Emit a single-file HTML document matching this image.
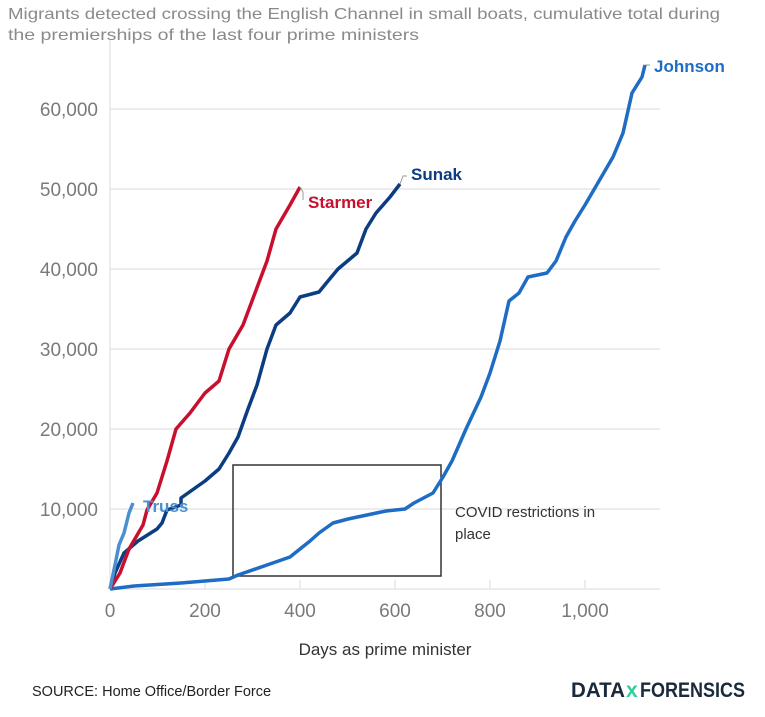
<!DOCTYPE html><html><head><style>body{margin:0;background:#fff;font-family:"Liberation Sans",sans-serif}</style></head><body>
<svg width="765" height="712" xmlns="http://www.w3.org/2000/svg" font-family="Liberation Sans, sans-serif">
<text x="8" y="19" font-size="16" fill="#8a8a8a" textLength="712" lengthAdjust="spacingAndGlyphs">Migrants detected crossing the English Channel in small boats, cumulative total during</text>
<text x="8" y="40" font-size="16" fill="#8a8a8a" textLength="411" lengthAdjust="spacingAndGlyphs">the premierships of the last four prime ministers</text>
<g stroke="#e6e6e6" stroke-width="1.5">
<line x1="110" y1="509" x2="660" y2="509"/><line x1="110" y1="429" x2="660" y2="429"/><line x1="110" y1="349" x2="660" y2="349"/><line x1="110" y1="269" x2="660" y2="269"/><line x1="110" y1="189" x2="660" y2="189"/><line x1="110" y1="109" x2="660" y2="109"/>
<line x1="110" y1="40" x2="110" y2="589"/><line x1="205" y1="580" x2="205" y2="589"/><line x1="300" y1="580" x2="300" y2="589"/><line x1="395" y1="580" x2="395" y2="589"/><line x1="490" y1="580" x2="490" y2="589"/><line x1="585" y1="580" x2="585" y2="589"/>
<line x1="110" y1="589" x2="660" y2="589"/></g>
<g font-size="19" fill="#7a7a7a" text-anchor="end">
<text x="98" y="516">10,000</text><text x="98" y="436">20,000</text><text x="98" y="356">30,000</text><text x="98" y="276">40,000</text><text x="98" y="196">50,000</text><text x="98" y="116">60,000</text></g>
<g font-size="19" fill="#7a7a7a" text-anchor="middle">
<text x="110" y="617">0</text><text x="205" y="617">200</text><text x="300" y="617">400</text><text x="395" y="617">600</text><text x="490" y="617">800</text><text x="585" y="617">1,000</text></g>
<text x="385" y="655" font-size="17" fill="#333" text-anchor="middle">Days as prime minister</text>
<rect x="233" y="465" width="208" height="111" fill="none" stroke="#333" stroke-width="1.5"/>
<text x="455" y="517" font-size="15" fill="#333">COVID restrictions in</text>
<text x="455" y="539" font-size="15" fill="#333">place</text>
<g fill="none" stroke-width="3.5" stroke-linejoin="round">
<polyline stroke="#1f6cc4" points="110,589 134,586 181,583 229,579 238,575 267,565 290,557 300,549 310,541 319,533 333,523 348,519 367,515 386,511 405,509 414,503 433,493 443,477 452,461 466,429 481,397 490,373 500,341 509,301 519,293 528,277 547,273 556,261 566,237 575,221 585,205 599,181 613,157 623,133 632,93 642,77 645,65"/>
<polyline stroke="#0b3d82" points="110,589 115,573 124,553 138,541 157,529 162,523 167,510 181,505 181,498 205,481 219,469 229,453 238,437 248,409 257,385 267,349 276,325 290,313 300,297 319,292 328,281 338,269 357,253 366,229 376,213 390,197 400,184"/>
<polyline stroke="#c8102e" points="110,589 120,573 129,549 143,525 147,510 157,493 167,461 176,429 190,413 205,393 219,381 229,349 243,325 252,301 267,261 276,229 290,205 300,187"/>
<polyline stroke="#4a8fd0" points="110,589 115,565 119,545 124,533 129,513 133,503"/>
</g>
<g fill="none" stroke="#999" stroke-width="1"><polyline points="645,65 650,65"/><polyline points="400,184 403,176 407,176"/><polyline points="300,187 303,192 303,200"/></g>
<text x="654" y="72" font-size="17" font-weight="bold" fill="#1f6cc4">Johnson</text>
<text x="411" y="180" font-size="17" font-weight="bold" fill="#0b3d82">Sunak</text>
<text x="308" y="208" font-size="17" font-weight="bold" fill="#c8102e">Starmer</text>
<text x="143" y="512" font-size="17" font-weight="bold" fill="#4a8fd0">Truss</text>
<text x="32" y="696" font-size="14.5" fill="#222">SOURCE: Home Office/Border Force</text>
<text x="571" y="697" font-size="21" font-weight="bold" fill="#1a2a3a" textLength="54" lengthAdjust="spacingAndGlyphs">DATA</text>
<text x="626" y="697" font-size="21" font-weight="bold" fill="#2fd19a">x</text>
<text x="640" y="697" font-size="21" font-weight="bold" fill="#1a2a3a" textLength="105" lengthAdjust="spacingAndGlyphs">FORENSICS</text>
</svg></body></html>
